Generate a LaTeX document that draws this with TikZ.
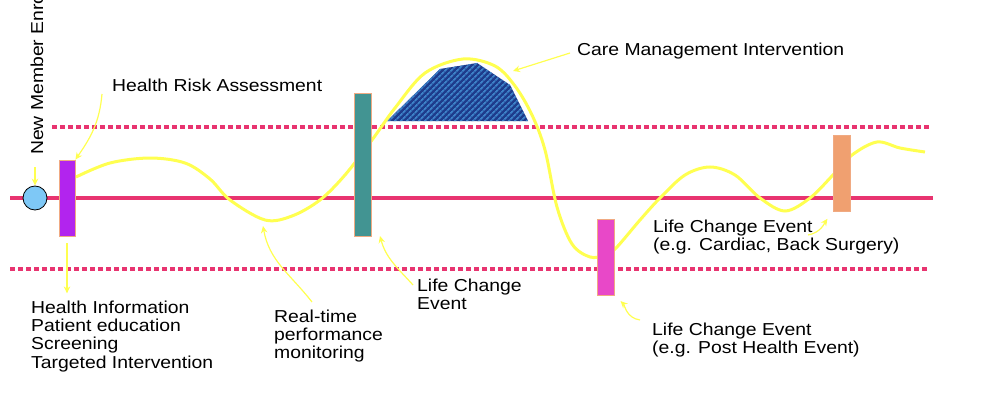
\documentclass[tikz,border=0pt]{standalone}
\usepackage{fontspec}
\setmainfont{Liberation Sans}[FakeStretch=1.12]
\usetikzlibrary{arrows.meta,patterns.meta}
\definecolor{lineRed}{RGB}{232,52,112}
\definecolor{barPurple}{RGB}{178,36,238}
\definecolor{barTeal}{RGB}{66,148,146}
\definecolor{barPink}{RGB}{232,72,200}
\definecolor{barOrange}{RGB}{240,160,112}
\definecolor{barEdge}{RGB}{240,170,130}
\definecolor{circBlue}{RGB}{126,200,246}
\definecolor{hatchDark}{RGB}{30,60,140}
\definecolor{hatchLight}{RGB}{62,130,200}
\definecolor{curveYellow}{RGB}{255,255,80}
\begin{document}
\begin{tikzpicture}[x=1pt,y=-1pt,
  txt/.style={font=\fontsize{17.3}{18.4}\selectfont, inner sep=0pt, align=left},
  barbox/.style={draw=barEdge, line width=0.8pt, minimum width=17pt, inner sep=0pt},
  arr/.style={draw=curveYellow, line width=1.2pt, -{Stealth[length=7pt,width=6.5pt]}},
  mainline/.style={draw=lineRed, line width=4pt},
  dotline/.style={draw=lineRed, line width=4pt, dash pattern=on 4.5pt off 3.5pt},
  lifecurve/.style={draw=curveYellow, line width=3pt}]
\useasboundingbox (0,0) rectangle (996,404);

% reference lines
\draw[mainline] (10,198) -- (933,198);
\draw[dotline] (52,127) -- (930,127);
\draw[dotline] (10,269) -- (930,269);

% hatched care management area
\path[fill=hatchDark] (387,121) -- (440,69) -- (477,63) -- (510,85) -- (528,121) -- cycle;
\path[pattern={Lines[angle=45,distance=4pt,line width=1.8pt]}, pattern color=hatchLight]
  (387,121) -- (440,69) -- (477,63) -- (510,85) -- (528,121) -- cycle;

% health curve
\draw[lifecurve] plot[smooth, tension=0.55] coordinates {
  (76,177) (110,163) (150,158) (185,163) (210,179) (230,200) (265,220) (292,216)
  (320,200) (345,175) (372,140) (395,108) (425,73) (463,59) (495,66) (515,86)
  (532,115) (545,150) (557,207) (572,244) (590,257) (605,255) (616,248)
  (640,220) (660,198) (685,175) (710,167) (735,175) (760,198) (785,211)
  (810,198) (833,175) (852,155) (877,142) (900,148) (925,152)};

% bars
\node[barbox, fill=barPurple, minimum width=16pt, minimum height=76pt] (purple) at (67,198) {};
\node[barbox, fill=barTeal, minimum height=143pt] (teal) at (363,164.5) {};
\node[barbox, fill=barPink, minimum height=76pt] (pink) at (606,257) {};
\node[barbox, fill=barOrange, minimum height=76pt] (orange) at (841.5,173) {};

% new member circle
\node[circle, draw=black, line width=0.8pt, fill=circBlue, minimum size=24pt, inner sep=0pt] (nm) at (35,198) {};

% texts
\node[txt, rotate=90, anchor=base west] (nme) at (43,155) {New Member Enrollment};
\node[txt, anchor=base west] (hra) at (112,92) {Health Risk Assessment};
\node[txt, anchor=base west] (cmi) at (577,56) {Care Management Intervention};
\node[txt, anchor=north west] (hi) at (31,300.4) {Health Information\\Patient education\\Screening\\Targeted Intervention};
\node[txt, anchor=north west] (rt) at (274,309.4) {Real-time\\performance\\monitoring};
\node[txt, anchor=north west] (lce) at (417,278.4) {Life Change\\Event};
\node[txt, anchor=north west] (cardiac) at (653,219.4) {Life Change Event\\(e.g. Cardiac, Back Surgery)};
\node[txt, anchor=north west] (post) at (652,322.4) {Life Change Event\\(e.g. Post Health Event)};

% arrow anchor points
\coordinate (nmA) at (35,167);
\coordinate (hraA) at (102,94);
\coordinate (rtA) at (312,302);
\coordinate (rtT) at (263,226);
\coordinate (lceA) at (413,285);
\coordinate (lceT) at (380,236);
\coordinate (cmiA) at (570,53);
\coordinate (cmiT) at (513,71);
\coordinate (postA) at (640,320);
\coordinate (cardA) at (808,235);

% arrows
\draw[arr] (nmA) -- (nm.north);
\draw[arr] (hraA) to[out=-95,in=55] (purple.north east);
\draw[arr, shorten <=7pt, shorten >=7pt] (purple.south) -- (purple.south |- hi.north);
\draw[arr] (rtA) to[out=128,in=-80] (rtT);
\draw[arr] (lceA) to[out=132,in=-75] (lceT);
\draw[arr] (cmiA) -- (cmiT);
\draw[arr, shorten >=8pt] (postA) to[out=172,in=-45] (pink.south east);
\draw[arr, shorten >=9pt] (cardA) to[out=10,in=-125] (orange.south west);
\end{tikzpicture}
\end{document}
